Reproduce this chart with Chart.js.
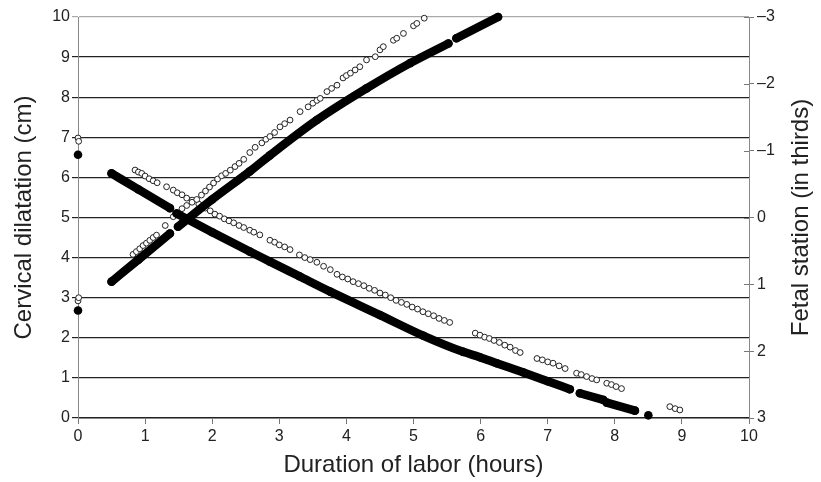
<!DOCTYPE html>
<html lang="en">
<head>
  <meta charset="UTF-8">
  <title>Cervical dilatation and fetal station</title>
  <style>
    body {
      margin: 0;
      background: #fff;
    }
    .chart-container {
      width: 821px;
      height: 482px;
    }
  </style>
  <script src="https://cdn.jsdelivr.net/npm/chart.js"></script>
</head>
<body>
  <div class="chart-container">
    <canvas id="chart"></canvas>
  </div>

  <script>
    // x = hours, dilatation in cm (left axis), station in thirds (right axis)
    // null y = break in the curve
    const dilatationFilled = [
      [0, 2.68], [0.25, null],
      [0.50, 3.40], [0.90, 3.95], [1.37, 4.60], [1.43, null],
      [1.49, 4.77], [2.00, 5.45], [2.56, 6.15], [2.86, 6.55], [3.56, 7.43],
      [4.30, 8.22], [4.95, 8.85], [5.52, 9.34], [5.58, null],
      [5.64, 9.47], [6.26, 10.0]
    ];
    const dilatationOpen = [
      [0, 2.92], [0.01, 3.00],
      [0.82, 4.08], [0.87, 4.15], [0.92, 4.22], [0.97, 4.30], [1.02, 4.36], [1.07, 4.43],
      [1.12, 4.50], [1.17, 4.56], [1.30, 4.80], [1.42, 5.02], [1.47, 5.12], [1.55, 5.22],
      [1.62, 5.30], [1.70, 5.38], [1.77, 5.45], [1.84, 5.56], [1.90, 5.66], [1.96, 5.76],
      [2.02, 5.86], [2.08, 5.96], [2.14, 6.04], [2.20, 6.10], [2.27, 6.18], [2.34, 6.27],
      [2.40, 6.35], [2.47, 6.45], [2.56, 6.62], [2.64, 6.75], [2.74, 6.86], [2.80, 6.95],
      [2.86, 7.02], [2.93, 7.12], [3.01, 7.26], [3.08, 7.34], [3.16, 7.43], [3.31, 7.64],
      [3.43, 7.76], [3.50, 7.85], [3.56, 7.92], [3.61, 7.97], [3.71, 8.14], [3.78, 8.22],
      [3.86, 8.30], [3.95, 8.48], [4.00, 8.54], [4.06, 8.60], [4.13, 8.68], [4.20, 8.76],
      [4.30, 8.93], [4.43, 9.01], [4.50, 9.18], [4.55, 9.26], [4.70, 9.42], [4.75, 9.47],
      [4.85, 9.59], [5.00, 9.78], [5.05, 9.84], [5.16, 9.97]
    ];
    const stationFilled = [
      [0, -0.94], [0.25, null],
      [0.50, -0.66], [0.90, -0.42], [1.37, -0.14], [1.42, null],
      [1.47, -0.06], [2.00, 0.22], [2.56, 0.51], [2.86, 0.66], [3.30, 0.88],
      [3.76, 1.11], [4.50, 1.46], [5.15, 1.77], [5.74, 2.01], [5.99, 2.09],
      [6.24, 2.18], [6.64, 2.32], [7.00, 2.45], [7.33, 2.57], [7.40, null],
      [7.48, 2.63], [7.83, 2.73], [7.85, null],
      [7.88, 2.77], [8.30, 2.89], [8.40, null],
      [8.50, 2.96]
    ];
    const stationOpen = [
      [0, -1.19], [0.01, -1.14],
      [0.85, -0.71], [0.90, -0.68], [0.95, -0.66], [1.00, -0.62], [1.06, -0.58], [1.12, -0.55],
      [1.18, -0.52], [1.32, -0.46], [1.42, -0.41], [1.48, -0.37], [1.55, -0.34], [1.62, -0.29],
      [1.70, -0.26], [1.80, -0.20], [1.90, -0.14], [1.97, -0.10], [2.04, -0.05], [2.11, -0.02],
      [2.18, 0.02], [2.25, 0.05], [2.32, 0.08], [2.40, 0.12], [2.47, 0.15], [2.56, 0.19],
      [2.62, 0.22], [2.71, 0.26], [2.86, 0.34], [2.93, 0.37], [3.00, 0.41], [3.08, 0.44],
      [3.16, 0.48], [3.30, 0.56], [3.38, 0.60], [3.46, 0.63], [3.56, 0.67], [3.66, 0.73],
      [3.76, 0.78], [3.86, 0.85], [3.94, 0.89], [4.02, 0.92], [4.10, 0.96], [4.18, 0.99],
      [4.26, 1.02], [4.34, 1.06], [4.42, 1.09], [4.50, 1.13], [4.58, 1.16], [4.66, 1.20],
      [4.74, 1.24], [4.82, 1.27], [4.90, 1.30], [4.98, 1.34], [5.06, 1.37], [5.14, 1.41],
      [5.22, 1.44], [5.30, 1.47], [5.38, 1.51], [5.46, 1.54], [5.54, 1.57], [5.92, 1.73],
      [5.99, 1.76], [6.06, 1.79], [6.13, 1.81], [6.20, 1.84], [6.28, 1.87], [6.36, 1.91],
      [6.44, 1.94], [6.52, 1.99], [6.59, 2.02], [6.84, 2.11], [6.92, 2.13], [7.00, 2.16],
      [7.08, 2.18], [7.17, 2.22], [7.26, 2.26], [7.43, 2.33], [7.50, 2.35], [7.58, 2.38],
      [7.66, 2.41], [7.73, 2.43], [7.88, 2.48], [7.95, 2.50], [8.02, 2.53], [8.10, 2.56],
      [8.82, 2.83], [8.90, 2.86], [8.97, 2.88]
    ];
    const xTicks = [0, 1, 2, 3, 4, 5, 6, 7, 8, 9, 10];
    const leftTicks = [0, 1, 2, 3, 4, 5, 6, 7, 8, 9, 10];
    const rightTicks = [-3, -2, -1, 0, 1, 2, 3];

    const toPoints = arr => arr.map(p => ({ x: p[0], y: p[1] }));
    const family = "'Liberation Sans', Arial, sans-serif";
    const tickFont = { family: family, size: 16 };
    const titleFont = { family: family, size: 24 };

    // right axis title reads bottom-to-top, and its ticks cross the axis line
    const rightAxisExtras = {
      id: 'rightAxisExtras',
      afterDraw(chart) {
        const c = chart.ctx;
        const s = chart.scales.y2;
        const area = chart.chartArea;
        c.save();
        c.strokeStyle = '#777';
        c.lineWidth = 1;
        rightTicks.forEach(v => {
          const y = Math.round(s.getPixelForValue(v)) + 0.5;
          c.beginPath();
          c.moveTo(area.right - 5, y);
          c.lineTo(area.right, y);
          c.stroke();
        });
        c.translate(801, (area.top + area.bottom) / 2);
        c.rotate(-Math.PI / 2);
        c.fillStyle = '#222';
        c.font = '24px ' + family;
        c.textAlign = 'center';
        c.textBaseline = 'middle';
        c.fillText('Fetal station (in thirds)', 0, 0);
        c.restore();
      }
    };

    const filledStyle = {
      showLine: true,
      spanGaps: false,
      clip: false,
      cubicInterpolationMode: 'monotone',
      borderColor: '#000',
      backgroundColor: '#000',
      borderWidth: 8.5,
      borderCapStyle: 'round',
      pointRadius: 4.3,
      pointBorderWidth: 0,
      pointBackgroundColor: '#000'
    };
    const openStyle = {
      clip: false,
      pointRadius: 2.9,
      pointBorderWidth: 1,
      pointBorderColor: '#222',
      pointBackgroundColor: '#fff'
    };

    const ctx = document.getElementById('chart').getContext('2d');
    const chart = new Chart(ctx, {
      type: 'scatter',
      data: {
        datasets: [
          Object.assign({ label: 'Dilatation (filled)', data: toPoints(dilatationFilled), yAxisID: 'y' }, filledStyle),
          Object.assign({ label: 'Station (filled)', data: toPoints(stationFilled), yAxisID: 'y2' }, filledStyle),
          Object.assign({ label: 'Dilatation (open)', data: toPoints(dilatationOpen), yAxisID: 'y' }, openStyle),
          Object.assign({ label: 'Station (open)', data: toPoints(stationOpen), yAxisID: 'y2' }, openStyle)
        ]
      },
      options: {
        responsive: true,
        maintainAspectRatio: false,
        animation: false,
        layout: { padding: { top: 17, left: 0, right: 0, bottom: 0 } },
        plugins: {
          legend: { display: false },
          tooltip: { enabled: false }
        },
        scales: {
          x: {
            type: 'linear',
            min: 0,
            max: 10,
            afterBuildTicks: s => { s.ticks = xTicks.map(v => ({ value: v })); },
            afterFit: s => { s.height = 64; },
            border: { color: '#888', width: 1 },
            grid: { drawOnChartArea: false, tickLength: 6, color: '#777' },
            ticks: { color: '#222', font: tickFont, padding: 3, maxRotation: 0 },
            title: {
              display: true,
              text: 'Duration of labor (hours)',
              color: '#222',
              font: titleFont,
              padding: { top: 0, bottom: 2 }
            }
          },
          y: {
            type: 'linear',
            position: 'left',
            min: 0,
            max: 10,
            afterBuildTicks: s => { s.ticks = leftTicks.map(v => ({ value: v })); },
            afterFit: s => { s.width = 78; },
            border: { color: '#888', width: 1 },
            grid: {
              tickLength: 6,
              lineWidth: 1.2,
              color: c => (c.tick && c.tick.value === 10 ? '#aaa' : '#222')
            },
            ticks: { color: '#222', font: tickFont, padding: 2 },
            title: {
              display: true,
              text: 'Cervical dilatation (cm)',
              color: '#222',
              font: titleFont,
              padding: { top: 10, bottom: 0 }
            }
          },
          y2: {
            type: 'linear',
            position: 'right',
            reverse: true,
            min: -3,
            max: 3,
            afterBuildTicks: s => { s.ticks = rightTicks.map(v => ({ value: v })); },
            afterFit: s => { s.width = 72; },
            border: { color: '#888', width: 1 },
            grid: { drawOnChartArea: false, tickLength: 5, color: '#777' },
            ticks: {
              color: '#222',
              font: tickFont,
              padding: 3,
              callback: v => String(v).replace('-', '\u2013')
            }
          }
        }
      },
      plugins: [rightAxisExtras]
    });
  </script>
</body>
</html>
